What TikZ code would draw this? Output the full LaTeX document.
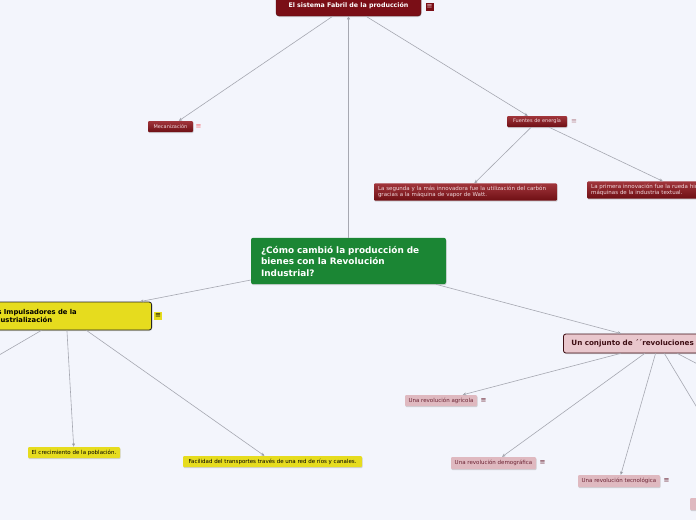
\documentclass[tikz,border=0pt]{standalone}
\usepackage{fontspec}
\setmainfont{DejaVu Sans}
\usetikzlibrary{arrows.meta,shadows}

\definecolor{fondo}{HTML}{F3F5FC}
\definecolor{fabril}{HTML}{7A0E16}
\definecolor{rojoA}{HTML}{A1353B}
\definecolor{rojoB}{HTML}{6E0F14}
\definecolor{verde}{HTML}{1B8634}
\definecolor{amarillo}{HTML}{E6DC1E}
\definecolor{rosa}{HTML}{E9C7CD}
\definecolor{rosaclaro}{HTML}{DFB9C0}
\definecolor{vino}{HTML}{3E0E14}
\definecolor{vinoclaro}{HTML}{6A2232}
\definecolor{linea}{HTML}{A6A8B1}

\begin{document}
\begin{tikzpicture}[x=1pt,y=-1pt,>={Stealth[length=3.5pt,width=3pt]},
  every node/.style={inner sep=0pt},
  sombra/.style={drop shadow={shadow xshift=0.5pt,shadow yshift=-1pt,opacity=0.3}},
  titulo/.style={sombra,fill=fabril,draw=rojoB!70!black,rounded corners=3pt,text=white,
    font=\bfseries\fontsize{6.3}{7}\selectfont},
  raiz/.style={sombra,fill=verde,rounded corners=2pt,text=white,align=left,
    inner xsep=10pt,inner ysep=8pt,font=\bfseries\fontsize{8.9}{11.5}\selectfont},
  hoja/.style={sombra,top color=rojoA,bottom color=rojoB,rounded corners=1pt,
    text=rosa!70!white,font=\fontsize{5}{6.5}\selectfont},
  impulso/.style={sombra,fill=amarillo,draw=black!85,line width=0.8pt,rounded corners=2.5pt,
    align=left,inner xsep=8pt,font=\bfseries\fontsize{6.8}{8}\selectfont},
  hojaam/.style={sombra,fill=amarillo,rounded corners=1pt,font=\fontsize{5.5}{6}\selectfont},
  revol/.style={sombra,fill=rosa,draw=vino,line width=0.8pt,rounded corners=2.5pt,
    align=left,inner xsep=8pt,text=vino,font=\bfseries\fontsize{7.2}{8}\selectfont},
  hojarosa/.style={sombra,fill=rosaclaro,rounded corners=1pt,text=vinoclaro,
    font=\fontsize{5.5}{6}\selectfont},
  menu/.style={minimum size=8pt,font=\fontsize{7}{7}\selectfont},
  conector/.style={draw=linea,line width=0.6pt}]

\fill[fondo] (0,0) rectangle (696,520);
\useasboundingbox (0,0) rectangle (696,520);
\clip (0,0) rectangle (696,520);

\node[raiz,text width=175pt] (cen) at (348.5,261)
  {¿Cómo cambió la producción de\\bienes con la Revolución\\Industrial?};

\node[titulo,minimum width=145pt,minimum height=21pt] (fab) at (348.5,5.5)
  {El sistema Fabril de la producción};
\node[menu,fill=fabril,text=rosa] (fabm) at (429.5,6.5) {≡};
\node[hoja,minimum width=45pt,minimum height=11pt] (mec) at (170.5,126.5) {Mecanización};
\node[menu,text=red!45!rosa] (mecm) at (198.5,126.5) {≡};
\node[hoja,minimum width=60pt,minimum height=11pt] (fue) at (537,121.5) {Fuentes de energía};
\node[menu,text=vinoclaro!40!rosa] (fuem) at (574,121.5) {≡};
\node[hoja,text width=175pt,inner xsep=4pt,inner ysep=2.5pt,align=left,
  font=\fontsize{5.5}{6.5}\selectfont] (seg) at (465.5,192)
  {La segunda y la más innovadora fue la utilización del carbón\\gracias a la máquina de vapor de Watt.};
\node[hoja,anchor=west,text width=180pt,inner xsep=4pt,inner ysep=2.5pt,align=left,
  font=\fontsize{5.5}{6.5}\selectfont] (pri) at (587,190)
  {La primera innovación fue la rueda hidráulica en las\\máquinas de la industria textual.};

\node[impulso,anchor=east,text width=155pt,minimum height=28pt] (imp) at (152,316)
  {Los Impulsadores de la\\industrialización};
\node[menu,fill=amarillo,text=black] (impm) at (158,315.5) {≡};
\coordinate (impizq) at (-30,372);
\node[hojaam,minimum width=92pt,minimum height=11pt] (cre) at (74,452.5) {El crecimiento de la población.};
\node[hojaam,minimum width=179pt,minimum height=11pt] (fac) at (272.5,461.5)
  {Facilidad del transportes través de una red de ríos y canales.};

\node[revol,anchor=west,text width=174pt,minimum height=19pt] (con) at (563,343.5)
  {Un conjunto de ´´revoluciones};
\node[hojarosa,minimum width=72pt,minimum height=11pt] (agr) at (441,400.5) {Una revolución agrícola};
\node[menu,text=vinoclaro] (agrm) at (483.5,400.5) {≡};
\node[hojarosa,minimum width=85pt,minimum height=12pt] (dem) at (493.5,463) {Una revolución demográfica};
\node[menu,text=vinoclaro] (demm) at (542.5,463) {≡};
\node[hojarosa,minimum width=82pt,minimum height=12pt] (tec) at (619,481) {Una revolución tecnológica};
\node[menu,text=vinoclaro] (tecm) at (666.5,481) {≡};
\node[hojarosa,minimum width=130pt,minimum height=12pt] (otr) at (755,504) {};
\coordinate (conder) at (772,403);

\path[conector,->] (cen) edge (fab)
  (fab) edge (mec) (fab) edge (fue)
  (fue) edge (seg) (fue) edge (pri)
  (cen) edge (imp) (cen) edge (con)
  (imp) edge (cre) (imp) edge (fac)
  (con) edge (agr) (con) edge (dem) (con) edge (tec) (con) edge (otr);
\path[conector] (imp) edge (impizq) (con) edge (conder);
\end{tikzpicture}
\end{document}
